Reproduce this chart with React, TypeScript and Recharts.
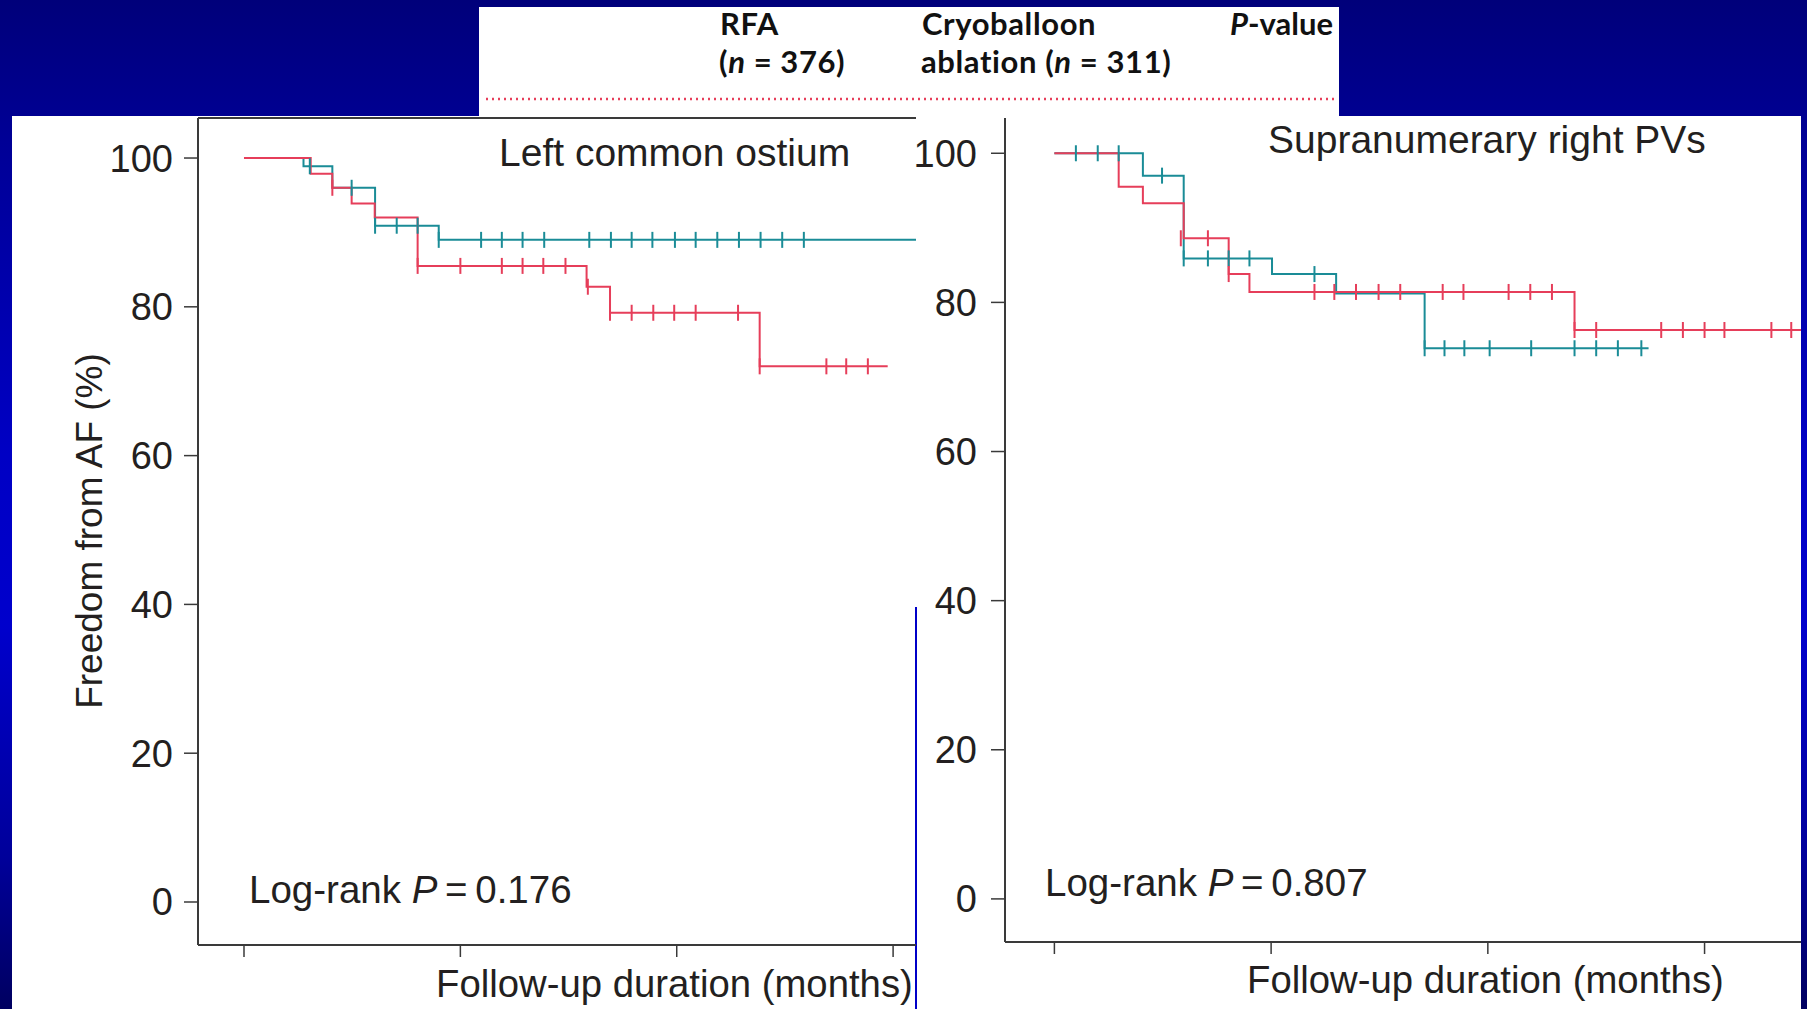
import { ComposedChart, Line, Scatter, XAxis, YAxis, ReferenceLine } from "recharts";

type Pair = [number, number];

const monthTicks = [0, 12, 24, 36];
const pctTicks = [0, 20, 40, 60, 80, 100];

// Left common ostium: [month, freedom %]
const leftRfa: Pair[] = [
  [0, 100], [3.7, 97.9], [4.9, 96.0], [5.97, 93.9], [7.25, 92.0],
  [9.63, 85.5], [19.0, 82.7], [20.3, 79.2], [28.6, 72.0], [35.7, 72.0],
];
const leftRfaCensored: Pair[] = [
  [4.9, 96.0], [9.63, 85.5], [12.0, 85.5], [14.3, 85.5], [15.45, 85.5],
  [16.6, 85.5], [17.83, 85.5], [19.07, 82.7], [20.3, 79.2], [21.5, 79.2],
  [22.7, 79.2], [23.86, 79.2], [25.05, 79.2], [27.4, 79.2], [28.6, 72.0],
  [32.3, 72.0], [33.4, 72.0], [34.6, 72.0],
];
const leftCryo: Pair[] = [
  [0, 100], [3.3, 98.9], [4.9, 96.0], [7.27, 90.9], [10.8, 89.0], [38, 89.0],
];
const leftCryoCensored: Pair[] = [
  [3.65, 98.9], [5.97, 96.0], [7.27, 90.9], [8.47, 90.9], [9.63, 90.9],
  [10.8, 89.0], [13.15, 89.0], [14.3, 89.0], [15.45, 89.0], [16.65, 89.0],
  [19.15, 89.0], [20.35, 89.0], [21.5, 89.0], [22.65, 89.0], [23.9, 89.0],
  [25.05, 89.0], [26.25, 89.0], [27.45, 89.0], [28.65, 89.0], [29.85, 89.0],
  [31.05, 89.0],
];

// Supranumerary right PVs
const rightRfa: Pair[] = [
  [0, 100], [3.56, 95.5], [4.9, 93.3], [7.16, 88.6], [9.65, 83.8],
  [10.8, 81.4], [28.8, 76.3], [42, 76.3],
];
const rightRfaCensored: Pair[] = [
  [7.0, 88.6], [8.5, 88.6], [9.65, 83.8], [14.4, 81.4], [15.5, 81.4],
  [16.7, 81.4], [17.95, 81.4], [19.15, 81.4], [21.5, 81.4], [22.65, 81.4],
  [25.15, 81.4], [26.35, 81.4], [27.55, 81.4], [28.8, 76.3], [30.0, 76.3],
  [33.6, 76.3], [34.8, 76.3], [36.0, 76.3], [37.1, 76.3], [39.7, 76.3],
  [40.8, 76.3],
];
const rightCryo: Pair[] = [
  [0, 100], [4.9, 97.0], [7.16, 85.9], [12.05, 83.8], [15.6, 81.2],
  [20.5, 73.85], [32.9, 73.85],
];
const rightCryoCensored: Pair[] = [
  [1.19, 100], [2.4, 100], [3.56, 100], [5.96, 97.0], [7.16, 85.9],
  [8.5, 85.9], [9.65, 85.9], [10.8, 85.9], [14.4, 83.8], [20.5, 73.85],
  [21.6, 73.85], [22.7, 73.85], [24.1, 73.85], [26.4, 73.85], [28.8, 73.85],
  [30.0, 73.85], [31.2, 73.85], [32.5, 73.85],
];

const RED = "#e63e5a";
const TEAL = "#1a8c97";
const INK = "#231f20";
const AXIS = "#3a3a3a";
const FONT = "'Liberation Sans', Arial, Helvetica, sans-serif";

const toRows = (pairs: Pair[]) => pairs.map(([t, s]) => ({ t, s }));

const censorMark = (color: string) => (props: any) => {
  const { cx, cy } = props;
  if (cx == null || cy == null) return <g />;
  return <line x1={cx} x2={cx} y1={cy - 8} y2={cy + 8} stroke={color} strokeWidth={2} />;
};

type PanelProps = {
  left: number;
  width: number;
  yAxisWidth: number;
  xAxisHeight: number;
  xDomain: [number, number];
  yDomain: [number, number];
  tickMargin: number;
  topBorder: boolean;
  rfa: Pair[];
  rfaCensored: Pair[];
  cryo: Pair[];
  cryoCensored: Pair[];
};

const KmPanel = (p: PanelProps) => (
  <div style={{ position: "absolute", left: p.left, top: 116 }}>
    <ComposedChart width={p.width} height={893} margin={{ top: 2, right: 0, bottom: 0, left: 0 }}>
      <XAxis
        type="number"
        dataKey="t"
        domain={p.xDomain}
        ticks={monthTicks}
        allowDataOverflow
        height={p.xAxisHeight}
        tickSize={12}
        tickFormatter={() => ""}
        axisLine={{ stroke: AXIS, strokeWidth: 2 }}
        tickLine={{ stroke: AXIS, strokeWidth: 1.5 }}
      />
      <YAxis
        type="number"
        dataKey="s"
        domain={p.yDomain}
        ticks={pctTicks}
        allowDataOverflow
        width={p.yAxisWidth}
        tickSize={14}
        tickMargin={p.tickMargin}
        axisLine={{ stroke: AXIS, strokeWidth: 2 }}
        tickLine={{ stroke: AXIS, strokeWidth: 1.5 }}
        tick={{ fontSize: 38, fill: INK, fontFamily: FONT }}
      />
      {p.topBorder && <ReferenceLine y={p.yDomain[1]} stroke={AXIS} strokeWidth={2} />}
      <Line data={toRows(p.cryo)} dataKey="s" type="stepAfter" stroke={TEAL} strokeWidth={2}
        dot={false} activeDot={false} isAnimationActive={false} />
      <Line data={toRows(p.rfa)} dataKey="s" type="stepAfter" stroke={RED} strokeWidth={2}
        dot={false} activeDot={false} isAnimationActive={false} />
      <Scatter data={toRows(p.cryoCensored)} dataKey="s" shape={censorMark(TEAL)} isAnimationActive={false} />
      <Scatter data={toRows(p.rfaCensored)} dataKey="s" shape={censorMark(RED)} isAnimationActive={false} />
    </ComposedChart>
  </div>
);

export default function App() {
  return (
    <div
      style={{
        position: "absolute",
        left: 0,
        top: 0,
        width: 1807,
        height: 1009,
        overflow: "hidden",
        background:
          "linear-gradient(180deg, #00007a 0%, #000096 14%, #0000c4 45%, #0000cc 62%, #00009a 85%, #000060 100%)",
      }}
    >
      <div style={{ position: "absolute", left: 479, top: 7, width: 860, height: 110, background: "#fff" }} />
      <div style={{ position: "absolute", left: 12, top: 116, width: 905, height: 893, background: "#fff" }} />
      <div style={{ position: "absolute", left: 917, top: 116, width: 884, height: 893, background: "#fff" }} />
      <div style={{ position: "absolute", left: 915, top: 607, width: 1.5, height: 402, background: "#0000c8" }} />

      <KmPanel
        left={12}
        width={904}
        yAxisWidth={186}
        xAxisHeight={64}
        xDomain={[-2.551, 37.27]}
        yDomain={[-5.78, 105.38]}
        tickMargin={11}
        topBorder
        rfa={leftRfa}
        rfaCensored={leftRfaCensored}
        cryo={leftCryo}
        cryoCensored={leftCryoCensored}
      />
      <KmPanel
        left={905}
        width={896}
        yAxisWidth={100}
        xAxisHeight={67}
        xDomain={[-2.735, 41.34]}
        yDomain={[-5.78, 104.73]}
        tickMargin={14}
        topBorder={false}
        rfa={rightRfa}
        rfaCensored={rightRfaCensored}
        cryo={rightCryo}
        cryoCensored={rightCryoCensored}
      />

      <svg
        width={1807}
        height={1009}
        style={{ position: "absolute", left: 0, top: 0, pointerEvents: "none" }}
      >
        <g fontFamily="Lato, 'Open Sans', sans-serif" fontWeight={700} fontSize={31} fill="#111">
          <text x={720} y={35} letterSpacing={0.6}>RFA</text>
          <text x={719} y={73} letterSpacing={0.6}>(<tspan fontStyle="italic">n</tspan> = 376)</text>
          <text x={922} y={35} letterSpacing={0.6}>Cryoballoon</text>
          <text x={921} y={73} letterSpacing={0.6}>ablation (<tspan fontStyle="italic">n</tspan> = 311)</text>
          <text x={1333} y={35} textAnchor="end"><tspan fontStyle="italic">P</tspan>-value</text>
        </g>
        <line x1={486} x2={1334} y1={99} y2={99} stroke={RED} strokeWidth={2.5} strokeDasharray="2 4" />

        <g fontFamily={FONT} fill={INK}>
          <text x={101.5} y={531} fontSize={37} textAnchor="middle" transform="rotate(-90 101.5 531)">
            Freedom from AF (%)
          </text>
          <text x={499} y={166} fontSize={39}>Left common ostium</text>
          <text x={1268} y={153} fontSize={39}>Supranumerary right PVs</text>
          <text x={249} y={903} fontSize={38.5}>
            Log-rank <tspan fontStyle="italic">P</tspan>{"\u2009=\u20090.176"}
          </text>
          <text x={1045} y={896} fontSize={38.5}>
            Log-rank <tspan fontStyle="italic">P</tspan>{"\u2009=\u20090.807"}
          </text>
          <text x={436} y={997} fontSize={38.3}>Follow-up duration (months)</text>
          <text x={1247} y={993} fontSize={38.3}>Follow-up duration (months)</text>
        </g>
      </svg>
    </div>
  );
}
